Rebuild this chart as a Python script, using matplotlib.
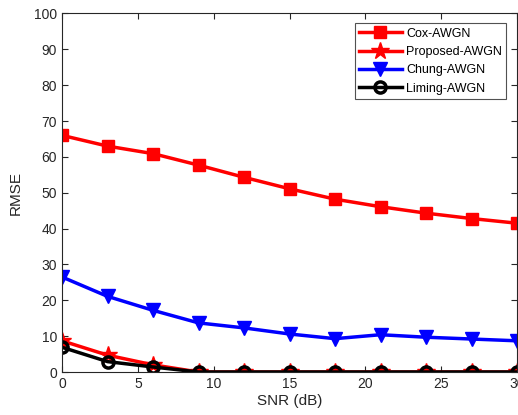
import numpy as np
import matplotlib
matplotlib.use('Agg')
import matplotlib.pyplot as plt

plt.rcParams['font.family'] = ['Liberation Sans', 'DejaVu Sans']

snr_db = [0, 3, 6, 9, 12, 15, 18, 21, 24, 27, 30]
cox_awgn = [66.0, 63.0, 60.9, 57.7, 54.3, 51.1, 48.2, 46.1, 44.3, 42.8, 41.5]
proposed_awgn = [8.7, 4.7, 2.0, 0, 0, 0, 0, 0, 0, 0, 0]
chung_awgn = [26.5, 21.1, 17.2, 13.7, 12.3, 10.6, 9.3, 10.4, 9.7, 9.2, 8.7]
liming_awgn = [6.9, 2.9, 1.4, 0, 0, 0, 0, 0, 0, 0, 0]

fig = plt.figure(figsize=(5.18, 4.15), dpi=100)
ax = fig.add_axes([0.1197, 0.1036, 0.8785, 0.864])

ax.plot(snr_db, cox_awgn, color='red', lw=2.5, marker='s', ms=8,
        label='Cox-AWGN')
ax.plot(snr_db, proposed_awgn, color='red', lw=2.5, marker='*', ms=13,
        label='Proposed-AWGN')
ax.plot(snr_db, chung_awgn, color='blue', lw=2.5, marker='v', ms=10,
        label='Chung-AWGN')
ax.plot(snr_db, liming_awgn, color='black', lw=2.5, marker='o', ms=8,
        mfc='none', mew=2.5, label='Liming-AWGN')

ax.set_xlim(0, 30)
ax.set_ylim(0, 100)
ax.set_xticks(np.arange(0, 31, 5))
ax.set_yticks(np.arange(0, 101, 10))
ax.tick_params(direction='in', top=True, right=True, labelsize=10,
               colors='#262626', length=4)
for s in ax.spines.values():
    s.set_color('#262626')
    s.set_linewidth(0.8)

ax.set_xlabel('SNR (dB)', fontsize=11, color='#262626', labelpad=2)
ax.set_ylabel('RMSE', fontsize=11, color='#262626', labelpad=8)

leg = ax.legend(loc='upper right', bbox_to_anchor=(0.976, 0.972),
                fontsize=9, frameon=True, fancybox=False, handlelength=3.4,
                borderpad=0.35, labelspacing=0.5, handletextpad=0.35,
                borderaxespad=0)
leg.get_frame().set_edgecolor('#262626')
leg.get_frame().set_linewidth(0.8)

fig.savefig('out.png', dpi=100)
